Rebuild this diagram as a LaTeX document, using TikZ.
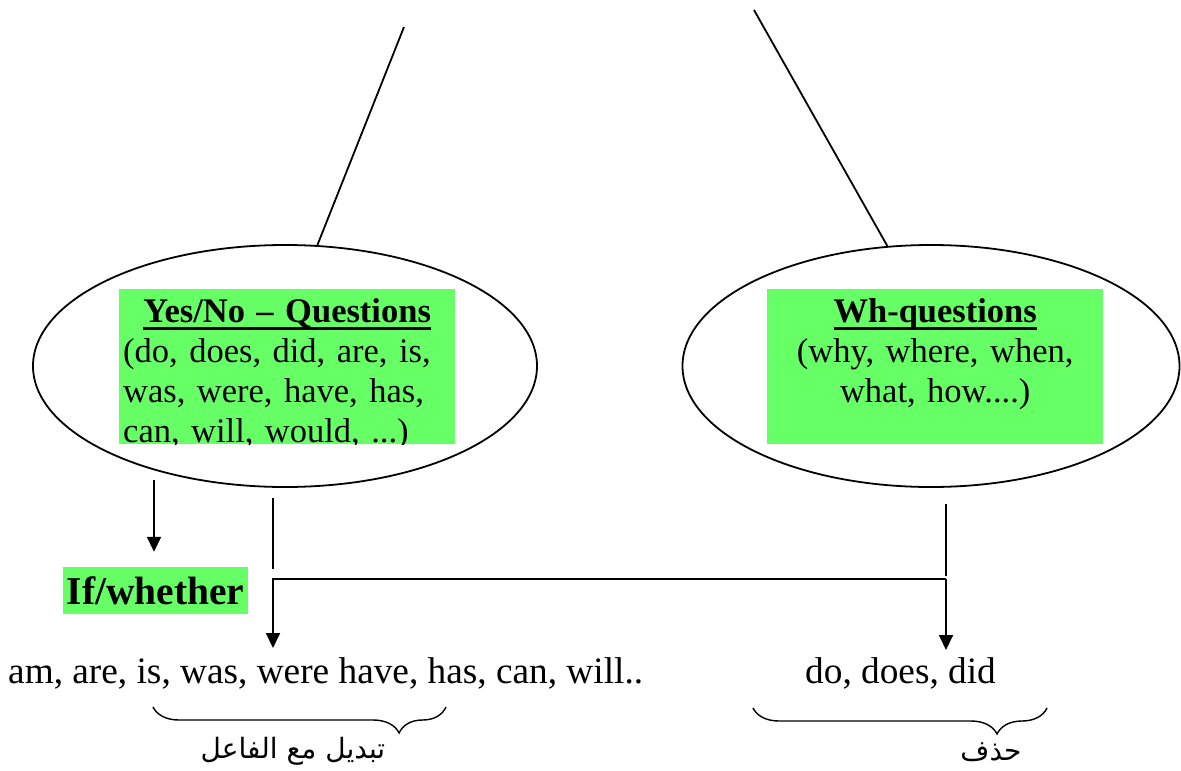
\documentclass[tikz,border=0pt]{standalone}
\usepackage{fontspec}
\setmainfont{Liberation Serif}
\newfontfamily\arabicfont[Script=Arabic]{DejaVu Sans}
\TeXXeTstate=1
\usetikzlibrary{shapes.geometric,arrows.meta,decorations.pathreplacing,positioning}
\definecolor{hilite}{RGB}{102,255,102}
\newcommand{\thickul}[1]{\setbox0\hbox{#1}\rlap{\rule[-7.5pt]{\wd0}{2.6pt}}\box0}
\tikzstyle{line}=[line width=1.8pt]
\tikzstyle{arrow}=[-{Triangle[length=15pt,width=14pt]},line]
\tikzstyle{oval}=[ellipse,draw,line width=1.8pt,minimum height=242pt]
\tikzstyle{greenbox}=[fill=hilite,anchor=north west,inner xsep=4pt,inner ysep=0pt,text width=328pt,text height=33pt,text depth=122pt,font=\fontsize{34.5}{40}\selectfont]
\tikzstyle{words}=[inner sep=0pt,anchor=base west,font=\fontsize{37.3}{44}\selectfont]
\tikzstyle{arab}=[inner sep=0pt,font=\arabicfont\fontsize{28}{32}\selectfont]
\tikzstyle{curly}=[line width=1.4pt,decorate,decoration={brace,mirror,amplitude=26pt}]

\begin{document}
\begin{tikzpicture}[x=1pt,y=-1pt]
    \useasboundingbox (0,0) rectangle (1181,771);

    \node[oval,minimum width=504pt] (yesno) at (285,366) {};
    \node[oval,minimum width=497pt] (whq) at (931,366) {};
    \begin{scope}
      \clip (119,289) rectangle (455,444);
      \node[greenbox,align=left] (yesnotext) at (119,289) {\makebox[\linewidth]{\textbf{\thickul{Yes/No – Questions}}}\\(do, does, did, are, is,\\was, were, have, has,\\can, will, would, ...)};
    \end{scope}
    \node[greenbox,align=center] (whtext) at (767,289) {\textbf{\thickul{Wh-questions}}\\(why, where, when,\\what, how....)};

    \node[words,font=\bfseries\fontsize{39.5}{46}\selectfont,fill=hilite,inner xsep=3.5pt,text height=37pt,text depth=10pt] (ifw) at (63,604) {If/whether};
    \node[words] (inverted) at (8,683) {am, are, is, was, were have, has, can, will..};
    \node[words] (dropped) at (805,683) {do, does, did};
    \node[arab] (swap) at (293,751) {\beginR تبديل مع الفاعل\endR};
    \node[arab] (drop) at (991,752) {\beginR حذف\endR};

    \coordinate (topL) at (404,27);
    \coordinate (topR) at (754,10);
    \coordinate (a1) at (154,480);
    \coordinate (stubL) at (273,498);
    \coordinate (stubLe) at (273,569);
    \coordinate (stubR) at (946,504);
    \coordinate (stubRe) at (946,576);
    \coordinate (forkL) at (273,579);
    \coordinate (forkR) at (946,579);
    \coordinate (tipL) at (273,648);
    \coordinate (tipR) at (946,650);

    \draw[line] (topL) -- (yesno.75);
    \draw[line] (topR) -- (whq.110);
    \draw[arrow,shorten >=15pt] (a1) -- (a1 |- ifw.north);
    \draw[line] (stubL) -- (stubLe);
    \draw[line] (stubR) -- (stubRe);
    \draw[arrow] (forkR) -- (forkL) -- (tipL);
    \draw[arrow] (forkR) -- (tipR);

    \draw[curly,decoration={aspect=0.84}] (153,707) -- (446,707);
    \draw[curly,decoration={aspect=0.83}] (753,708) -- (1047,708);
\end{tikzpicture}
\end{document}
